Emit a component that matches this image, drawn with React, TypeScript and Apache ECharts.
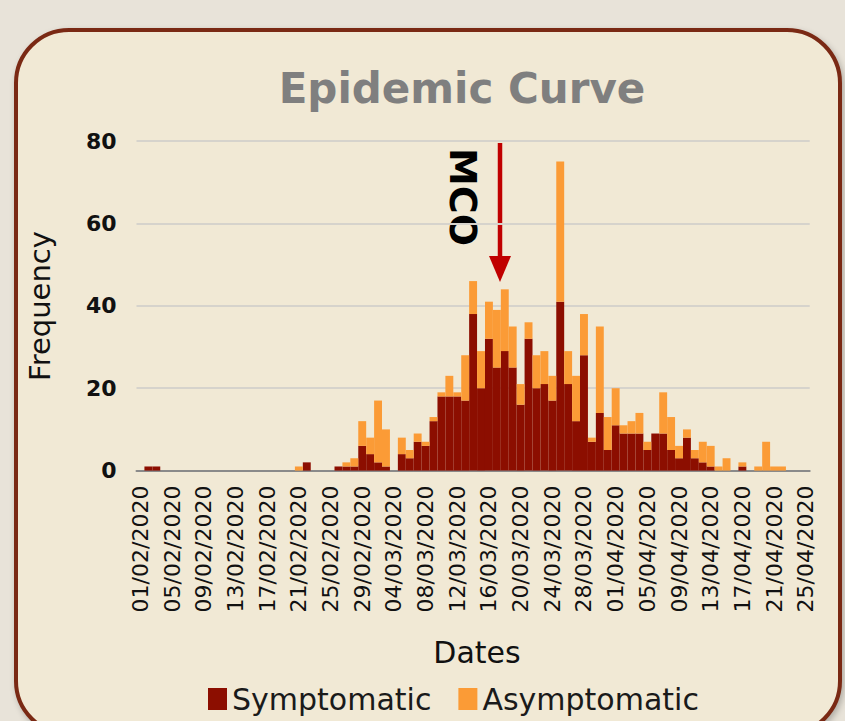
import React, { useEffect, useRef } from "react";
import * as echarts from "echarts";

const START_DATE = { year: 2020, month: 2, day: 1 };
const DAY_COUNT = 85;

function buildDates(): string[] {
  const out: string[] = [];
  const base = Date.UTC(START_DATE.year, START_DATE.month - 1, START_DATE.day);
  for (let i = 0; i < DAY_COUNT; i++) {
    const d = new Date(base + i * 86400000);
    const dd = String(d.getUTCDate()).padStart(2, "0");
    const mm = String(d.getUTCMonth() + 1).padStart(2, "0");
    out.push(`${dd}/${mm}/${d.getUTCFullYear()}`);
  }
  return out;
}

const dates = buildDates();

const symptomatic = [
  0, 1, 1, 0, 0, 0, 0, 0, 0, 0,
  0, 0, 0, 0, 0, 0, 0, 0, 0, 0,
  0, 2, 0, 0, 0, 1, 1, 1, 6, 4,
  2, 1, 0, 4, 3, 7, 6, 12, 18, 18,
  18, 17, 38, 20, 32, 25, 29, 25, 16, 32,
  20, 21, 17, 41, 21, 12, 28, 7, 14, 5,
  11, 9, 9, 9, 5, 9, 9, 5, 3, 8,
  3, 2, 1, 0, 0, 0, 1, 0, 0, 0,
  0, 0, 0, 0, 0,
];

const asymptomatic = [
  0, 0, 0, 0, 0, 0, 0, 0, 0, 0,
  0, 0, 0, 0, 0, 0, 0, 0, 0, 0,
  1, 0, 0, 0, 0, 0, 1, 2, 6, 4,
  15, 9, 0, 4, 2, 2, 1, 1, 1, 5,
  1, 11, 8, 9, 9, 14, 15, 10, 5, 4,
  8, 8, 6, 34, 8, 11, 10, 1, 21, 8,
  9, 2, 3, 5, 2, 0, 10, 8, 3, 2,
  2, 5, 5, 1, 3, 0, 1, 0, 1, 7,
  1, 1, 0, 0, 0,
];

const yTicks = { min: 0, max: 80, interval: 20 };
const FONT = "'DejaVu Sans', sans-serif";

export default function App() {
  const ref = useRef<HTMLDivElement>(null);

  useEffect(() => {
    if (!ref.current) return;
    const chart = echarts.init(ref.current, undefined, { renderer: "svg" });
    chart.setOption({
      animation: false,
      backgroundColor: "transparent",
      title: {
        text: "Epidemic Curve",
        left: 457,
        top: 62,
        textAlign: "center",
        textStyle: {
          fontFamily: FONT,
          fontWeight: "bold",
          fontSize: 42,
          color: "#7f7f7f",
        },
      },
      legend: {
        left: 203,
        top: 679,
        itemWidth: 19,
        itemHeight: 22,
        itemGap: 27,
        icon: "rect",
        textStyle: { fontFamily: FONT, fontSize: 30, color: "#1a1a1a" },
        data: ["Symptomatic", "Asymptomatic"],
      },
      grid: { left: 136.5, right: 35.3, top: 141, bottom: 250.4, containLabel: false },
      xAxis: {
        type: "category",
        data: dates,
        boundaryGap: true,
        axisLine: { lineStyle: { color: "#8a8a8a", width: 2 } },
        axisTick: { show: false },
        axisLabel: {
          interval: 3,
          rotate: 90,
          margin: 15,
          fontFamily: FONT,
          fontSize: 22,
          color: "#111",
        },
      },
      yAxis: {
        type: "value",
        min: yTicks.min,
        max: yTicks.max,
        interval: yTicks.interval,
        axisLine: { show: false },
        axisTick: { show: false },
        splitLine: { lineStyle: { color: "#d6d3cc", width: 2 } },
        axisLabel: {
          margin: 20,
          fontFamily: FONT,
          fontWeight: "bold",
          fontSize: 22,
          color: "#111",
        },
      },
      series: [
        {
          name: "Symptomatic",
          type: "bar",
          stack: "cases",
          data: symptomatic,
          barCategoryGap: "0%",
          itemStyle: { color: "#8c0e00" },
        },
        {
          name: "Asymptomatic",
          type: "bar",
          stack: "cases",
          data: asymptomatic,
          barCategoryGap: "0%",
          itemStyle: { color: "#fb9b36" },
        },
      ],
      graphic: [
        {
          type: "text",
          x: 40,
          y: 306,
          rotation: Math.PI / 2,
          style: {
            text: "Frequency",
            font: `29px ${FONT}`,
            fill: "#111",
            textAlign: "center",
            textVerticalAlign: "middle",
          },
        },
        {
          type: "text",
          x: 477,
          y: 652,
          style: {
            text: "Dates",
            font: `30px ${FONT}`,
            fill: "#111",
            textAlign: "center",
            textVerticalAlign: "middle",
          },
        },
        {
          type: "line",
          shape: { x1: 500, y1: 143, x2: 500, y2: 262 },
          style: { stroke: "#c00000", lineWidth: 4.5 },
        },
        {
          type: "polygon",
          shape: { points: [[489, 256], [511, 256], [500, 282]] },
          style: { fill: "#c00000" },
        },
        {
          type: "text",
          x: 463,
          y: 197,
          rotation: -Math.PI / 2,
          style: {
            text: "MCO",
            font: `bold 38px ${FONT}`,
            fill: "#000",
            textAlign: "center",
            textVerticalAlign: "middle",
          },
        },
      ],
    });
    return () => chart.dispose();
  }, []);

  return (
    <div
      style={{
        position: "absolute",
        left: 0,
        top: 0,
        width: 845,
        height: 721,
        overflow: "hidden",
        background: "#e8e3d9",
      }}
    >
      <div
        style={{
          position: "absolute",
          left: 14,
          top: 28,
          width: 820,
          height: 700,
          borderRadius: 55,
          border: "4px solid #7a2914",
          background: "#f1e9d5",
          boxShadow: "2px 3px 6px rgba(0,0,0,0.25)",
        }}
      />
      <div ref={ref} style={{ position: "absolute", left: 0, top: 0, width: 845, height: 721 }} />
    </div>
  );
}
